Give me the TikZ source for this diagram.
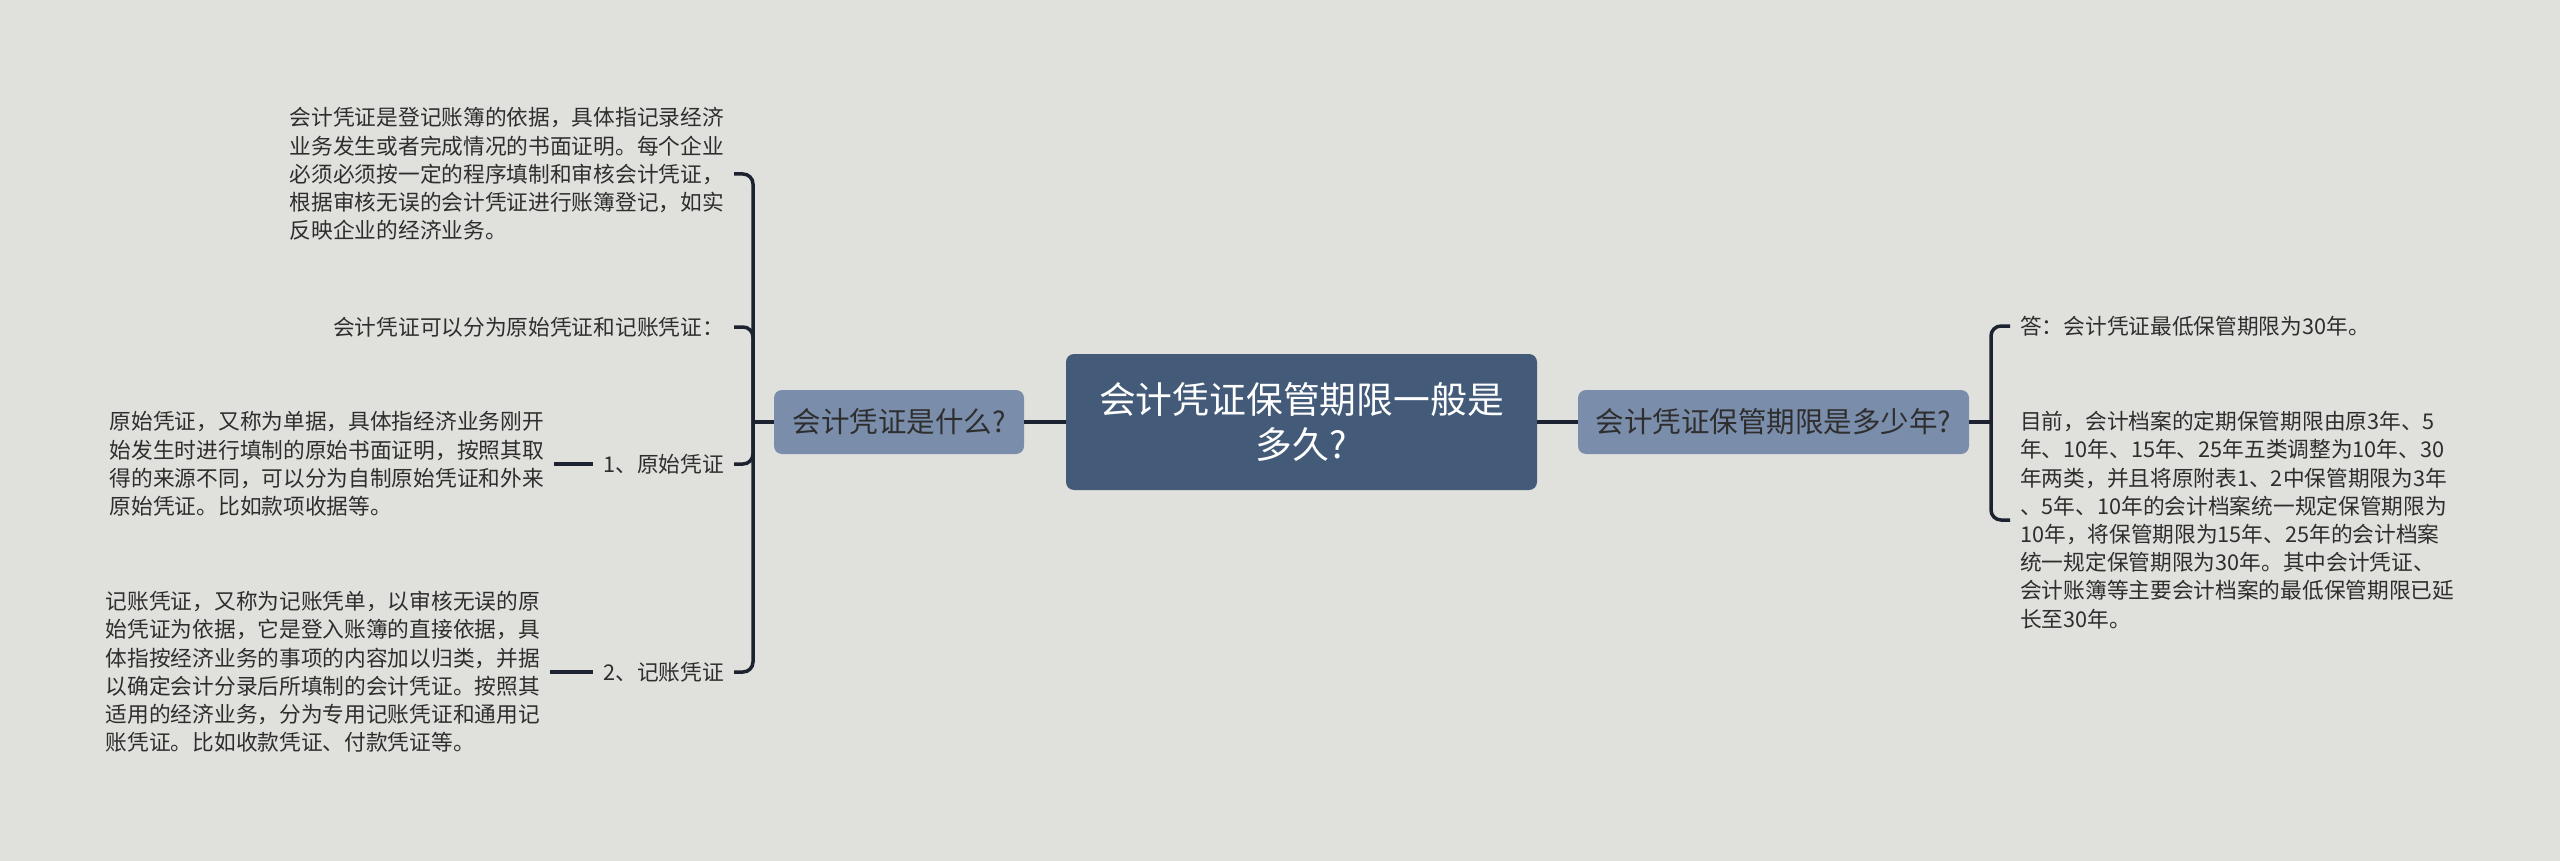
\documentclass[tikz,border=0pt]{standalone}
\usepackage{fontspec}
\setmainfont{Noto Sans CJK SC}
\definecolor{bg}{HTML}{E0E1DC}
\definecolor{mainfill}{HTML}{435A79}
\definecolor{subfill}{HTML}{7A8DAB}
\definecolor{linec}{HTML}{1C2230}
\definecolor{txt}{HTML}{2E2E2E}
\tikzset{
  mainnode/.style={fill=mainfill, rounded corners=8pt, minimum width=471pt, minimum height=136pt, text=white, font=\fontsize{36.8}{45.7}\selectfont, align=center, inner sep=0pt},
  subnode/.style={fill=subfill, rounded corners=8pt, minimum height=64pt, text=txt, font=\fontsize{28.5}{34}\selectfont, inner sep=0pt},
  leaf/.style={text=txt, font=\fontsize{21.7}{28.2}\selectfont, align=left, inner xsep=10pt, inner ysep=0pt},
  conn/.style={draw=linec, line width=3.5pt},
  brk/.style={conn, rounded corners=10pt}
}
\begin{document}
\begin{tikzpicture}[x=1pt,y=-1pt]
\useasboundingbox (0,0) rectangle (2560,861);
\fill[bg] (0,0) rectangle (2560,861);

\node[mainnode] (c) at (1301.5,422) {会计凭证保管期限一般是\\多久?};
\node[subnode, minimum width=250pt] (l) at (899,422) {会计凭证是什么?};
\node[subnode, minimum width=391pt] (r) at (1773.5,422) {会计凭证保管期限是多少年?};

\node[leaf, anchor=east] (a1) at (734,174) {会计凭证是登记账簿的依据，具体指记录经济\\业务发生或者完成情况的书面证明。每个企业\\必须必须按一定的程序填制和审核会计凭证，\\根据审核无误的会计凭证进行账簿登记，如实\\反映企业的经济业务。};
\node[leaf, anchor=east] (a2) at (734,327) {会计凭证可以分为原始凭证和记账凭证：};
\node[leaf, anchor=east] (a3) at (734,464) {1、原始凭证};
\node[leaf, anchor=east] (a4) at (734,672) {2、记账凭证};
\node[leaf, anchor=east] (d3) at (554,464) {原始凭证，又称为单据，具体指经济业务刚开\\始发生时进行填制的原始书面证明，按照其取\\得的来源不同，可以分为自制原始凭证和外来\\原始凭证。比如款项收据等。};
\node[leaf, anchor=east] (d4) at (550,672) {记账凭证，又称为记账凭单，以审核无误的原\\始凭证为依据，它是登入账簿的直接依据，具\\体指按经济业务的事项的内容加以归类，并据\\以确定会计分录后所填制的会计凭证。按照其\\适用的经济业务，分为专用记账凭证和通用记\\账凭证。比如收款凭证、付款凭证等。};

\node[leaf, anchor=west] (b1) at (2010,326) {答：会计凭证最低保管期限为30年。};
\node[leaf, anchor=west] (b2) at (2010,520) {目前，会计档案的定期保管期限由原3年、5\\年、10年、15年、25年五类调整为10年、30\\年两类，并且将原附表1、2中保管期限为3年\\、5年、10年的会计档案统一规定保管期限为\\10年，将保管期限为15年、25年的会计档案\\统一规定保管期限为30年。其中会计凭证、\\会计账簿等主要会计档案的最低保管期限已延\\长至30年。};

\draw[conn] (c.west) -- (l.east);
\draw[conn] (c.east) -- (r.west);

\coordinate (lj) at (753,422);
\draw[conn] (l.west) -- (lj);
\draw[brk] (lj) |- (a1.east);
\draw[brk] (lj) |- (a2.east);
\draw[brk] (lj) |- (a3.east);
\draw[brk] (lj) |- (a4.east);
\draw[conn] (a3.west) -- (d3.east);
\draw[conn] (a4.west) -- (d4.east);

\coordinate (rj) at (1991,422);
\draw[conn] (r.east) -- (rj);
\draw[brk] (rj) |- (b1.west);
\draw[brk] (rj) |- (b2.west);
\end{tikzpicture}
\end{document}
